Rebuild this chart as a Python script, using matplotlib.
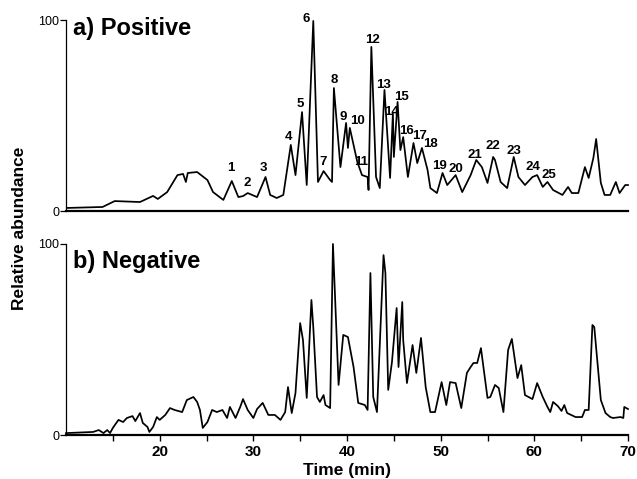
import matplotlib
matplotlib.use("Agg")
import matplotlib.pyplot as plt

plt.rcParams['font.family'] = ['Liberation Sans', 'DejaVu Sans']

# ---- Positive ion trace (time in min, relative abundance %) ----
pos_time = [10.1, 13.9, 15.2, 17.9, 19.3, 19.8, 20.8, 21.9, 22.5, 22.8, 23.0, 24.0,
            25.1, 25.7, 26.8, 27.7, 28.4, 28.9, 29.4, 30.4, 31.3, 31.8, 32.5, 33.2,
            34.0, 34.5, 35.2, 35.7, 36.4, 36.9, 37.5, 38.2, 38.4, 38.6, 39.3, 39.9,
            40.1, 40.3, 41.1, 41.6, 42.2, 42.3, 42.6, 43.1, 43.5, 44.0, 44.6, 44.9,
            45.0, 45.4, 45.7, 46.0, 46.5, 47.1, 47.5, 48.0, 48.6, 48.9, 49.6, 50.2,
            50.7, 51.6, 52.3, 53.2, 53.8, 54.4, 55.0, 55.6, 55.8, 56.4, 57.1, 57.8,
            58.3, 59.0, 59.8, 60.3, 60.9, 61.4, 62.0, 63.0, 63.6, 64.0, 64.7, 65.4,
            65.8, 66.3, 66.6, 67.1, 67.5, 68.1, 68.7, 69.1, 69.7, 70.0]
pos_abund = [1.6, 2.1, 5.2, 4.7, 7.9, 6.3, 9.9, 18.8, 19.4, 15.2, 19.9, 20.4,
             16.2, 9.9, 5.8, 15.7, 7.3, 7.8, 9.4, 7.3, 17.8, 8.4, 6.8, 8.4,
             34.6, 18.8, 51.8, 13.6, 99.5, 15.2, 20.9, 16.2, 15.2, 64.4, 23.0, 46.1,
             33.0, 43.5, 25.7, 18.8, 17.8, 11.0, 85.9, 17.8, 12.0, 63.4, 17.3, 51.3,
             28.3, 57.1, 31.9, 38.7, 17.8, 35.6, 25.1, 33.0, 21.5, 12.0, 9.4, 19.9,
             13.6, 18.8, 9.9, 18.8, 26.7, 23.0, 14.7, 28.3, 26.7, 15.2, 12.0, 28.3,
             17.8, 13.6, 17.8, 18.8, 12.6, 15.2, 11.0, 8.4, 12.6, 9.4, 9.4, 23.0,
             17.3, 27.7, 37.7, 14.7, 8.4, 8.4, 15.2, 9.4, 13.6, 13.6]

# ---- Negative ion trace ----
neg_time = [10.0, 12.9, 13.5, 14.0, 14.4, 14.7, 15.0, 15.6, 16.1, 16.5, 17.1, 17.4,
            17.9, 18.2, 18.7, 18.9, 19.3, 19.7, 20.0, 20.6, 21.1, 21.6, 22.4, 22.9,
            23.6, 24.0, 24.3, 24.6, 25.1, 25.6, 26.1, 26.7, 27.2, 27.5, 28.1, 28.6,
            28.9, 29.4, 30.0, 30.4, 31.0, 31.6, 32.3, 32.9, 33.4, 33.7, 34.1, 34.5,
            35.0, 35.3, 35.7, 36.2, 36.4, 36.8, 37.1, 37.5, 37.7, 38.2, 38.5, 39.1,
            39.6, 40.1, 40.7, 41.2, 41.9, 42.2, 42.5, 42.8, 43.2, 43.9, 44.1, 44.4,
            44.8, 45.3, 45.5, 45.9, 46.0, 46.4, 47.0, 47.4, 47.9, 48.4, 48.9, 49.4,
            50.1, 50.6, 51.0, 51.6, 52.2, 52.8, 53.2, 53.5, 53.9, 54.3, 55.0, 55.3,
            55.8, 56.2, 56.7, 57.2, 57.6, 58.2, 58.6, 59.0, 59.8, 60.3, 60.9, 61.4,
            61.7, 62.0, 62.5, 62.9, 63.2, 63.5, 64.4, 65.1, 65.4, 65.8, 66.2, 66.4,
            67.1, 67.6, 68.1, 68.4, 69.2, 69.5, 69.6, 70.0]
neg_abund = [1.0, 1.6, 2.6, 1.0, 2.6, 1.0, 3.7, 7.9, 6.8, 8.9, 9.9, 7.3,
             11.5, 6.3, 4.2, 1.6, 4.2, 9.4, 7.9, 10.5, 14.1, 13.1, 12.0, 18.3,
             19.9, 17.3, 13.1, 3.7, 6.8, 13.1, 12.0, 13.1, 8.9, 14.7, 8.9, 14.7,
             18.8, 13.1, 8.9, 13.6, 16.8, 10.5, 10.5, 7.9, 12.0, 25.1, 11.5, 22.0,
             58.6, 49.7, 19.4, 70.7, 56.5, 19.9, 17.3, 20.9, 15.7, 14.1, 100.0, 26.2,
             52.4, 51.3, 35.6, 16.8, 15.7, 13.1, 84.8, 19.9, 12.0, 94.2, 84.8, 23.6,
             38.2, 66.5, 35.6, 69.6, 49.7, 27.2, 47.1, 32.5, 50.8, 25.1, 12.0, 12.0,
             27.7, 15.7, 27.7, 27.2, 14.1, 32.5, 35.6, 37.7, 37.7, 45.5, 19.4, 19.9,
             26.2, 24.6, 12.0, 44.5, 50.3, 29.8, 36.6, 20.9, 18.8, 27.2, 19.9, 14.7,
             12.0, 17.3, 15.2, 12.6, 15.7, 11.5, 9.4, 9.4, 13.1, 13.1, 57.6, 56.5,
             18.3, 11.5, 9.4, 8.9, 9.4, 8.9, 14.7, 13.6]

# ---- Peak labels (positive trace) ----
peak_ids = [str(i) for i in range(1, 26)]
peak_time = [27.6, 29.3, 31.1, 33.8, 35.0, 35.6, 37.4, 38.6, 39.6, 41.1, 41.5, 42.7,
             43.9, 44.8, 45.8, 46.35, 47.75, 48.9, 49.9, 51.6, 53.7, 55.6, 57.8, 59.9, 61.5]
peak_abund = [22.5, 14.7, 22.5, 38.7, 56.0, 100.5, 25.7, 68.6, 49.2, 47.1, 25.7, 89.5,
              66.0, 51.8, 59.7, 41.9, 39.3, 35.1, 23.6, 22.0, 29.3, 34.0, 31.4, 23.0, 18.8]

x_ticks = [20, 30, 40, 50, 60, 70]
x_minor = [15, 25, 35, 45, 55, 65]
y_ticks = [0, 100]

W, H = 637, 479
fig = plt.figure(figsize=(W / 100, H / 100), dpi=100)
ax1 = fig.add_axes([66 / W, 1 - 211 / H, (628 - 66) / W, (211 - 20) / H])
ax2 = fig.add_axes([66 / W, 1 - 435 / H, (628 - 66) / W, (435 - 244) / H])

for ax, t, a in [(ax1, pos_time, pos_abund), (ax2, neg_time, neg_abund)]:
    ax.plot(t, a, color='black', lw=1.25, clip_on=False, solid_joinstyle='round')
    ax.set_xlim(10, 70)
    ax.set_ylim(0, 100)
    for s in ['top', 'right']:
        ax.spines[s].set_visible(False)
    ax.spines['left'].set_linewidth(0.9)
    ax.spines['bottom'].set_linewidth(1.6)
    ax.set_yticks(y_ticks)
    ax.set_yticklabels([str(v) for v in y_ticks], fontsize=9)
    ax.tick_params(axis='y', direction='out', length=4, width=0.9, pad=1)
    ax.patch.set_alpha(0)

ax1.set_xticks([])
ax2.set_xticks(x_ticks)
ax2.set_xticks(x_minor, minor=True)
ax2.set_xticklabels([str(v) for v in x_ticks], fontsize=11, fontweight='bold')
ax2.tick_params(axis='x', which='both', direction='out', length=4, width=1.0, pad=3)

for lab, t, a in zip(peak_ids, peak_time, peak_abund):
    ax1.text(t, a, lab, fontsize=9.5, fontweight='bold', ha='center', va='center',
             clip_on=False)

ax1.text(10.75, 95.8, 'a) Positive', fontsize=17, fontweight='bold', ha='left', va='center')
ax2.text(10.75, 90.6, 'b) Negative', fontsize=17, fontweight='bold', ha='left', va='center')

fig.text(20 / W, 1 - 228 / H, 'Relative abundance', rotation=90, fontsize=12.5,
         fontweight='bold', ha='center', va='center')
fig.text(347 / W, 1 - 470 / H, 'Time (min)', fontsize=12.5, fontweight='bold',
         ha='center', va='center')

fig.savefig('out.png', dpi=100)
